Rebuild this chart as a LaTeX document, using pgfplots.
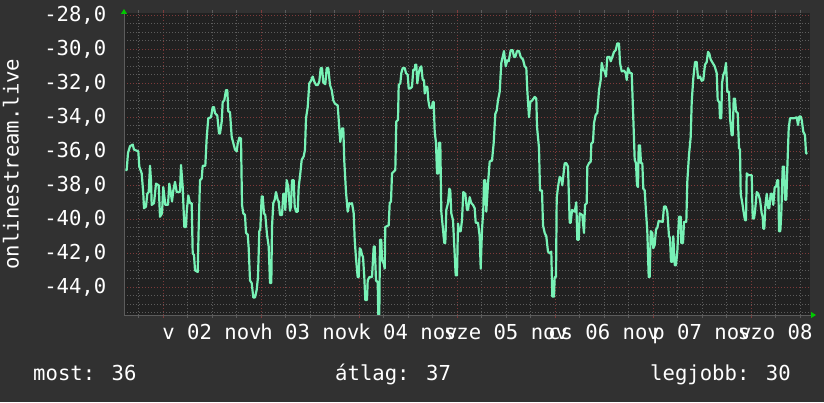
\documentclass[border=0pt]{standalone}
\usepackage{pgfplots}
\pgfplotsset{compat=1.18}
\usepackage{fontspec}
\setmainfont{DejaVu Sans Mono}
\usetikzlibrary{arrows.meta}
\definecolor{bgc}{RGB}{49,49,49}
\definecolor{canvasc}{RGB}{33,33,33}
\definecolor{gridg}{RGB}{92,92,92}
\definecolor{gridr}{RGB}{125,58,58}
\definecolor{linec}{RGB}{120,242,182}
\definecolor{arrowg}{RGB}{0,200,0}
\newcommand\rf{\fontsize{20.6pt}{24pt}\selectfont}
\begin{document}
\begin{tikzpicture}[x=1pt,y=1pt]
\fill[bgc] (0,0) rectangle (824,402);
\begin{axis}[
  at={(124pt,87pt)}, anchor=south west,
  scale only axis, width=685.5pt, height=301.7pt,
  xmin=124, xmax=809.5, ymin=-45.63, ymax=-27.88,
  axis background/.style={fill=canvasc},
  axis line style={draw=none},
  xtick={163,261,359,457,555,653,751},
  minor xtick={138.5,187.5,212,236.5,285.5,310,334.5,383.5,408,432.5,481.5,506,530.5,579.5,604,628.5,677.5,702,726.5,775.5,800},
  xticklabels={},
  extra x ticks={212,310,408,506,604,702,800},
  extra x tick labels={v 02 nov,h 03 nov,k 04 nov,sze 05 nov,cs 06 nov,p 07 nov,szo 08 nov},
  extra x tick style={grid=none, major tick length=0pt},
  ytick={-44,-42,-40,-38,-36,-34,-32,-30,-28},
  minor ytick={-45.5,-45,-44.5,-43.5,-43,-42.5,-41.5,-41,-40.5,-39.5,-39,-38.5,-37.5,-37,-36.5,-35.5,-35,-34.5,-33.5,-33,-32.5,-31.5,-31,-30.5,-29.5,-29,-28.5},
  grid=both,
  major grid style={draw=gridr, dash pattern=on 1pt off 2pt, line width=0.8pt},
  minor grid style={draw=gridg, dash pattern=on 1pt off 2pt, line width=0.8pt},
  tick align=outside,
  major tick length=3pt, minor tick length=3pt,
  major x tick style={draw=gridr, line width=0.8pt},
  minor x tick style={draw=gridg, line width=0.8pt},
  y tick style={draw=none},
  /pgf/number format/assume math mode=true,
  /pgf/number format/.cd, fixed, fixed zerofill, precision=1, use comma,
  /pgfplots/.cd,
  tick label style={font=\rf, text=white},
  yticklabel style={anchor=east, inner sep=0pt, xshift=-14.5pt},
  xticklabel style={anchor=base, inner sep=0pt, yshift=-24.5pt},
  clip=true,
]
\addplot[linec, line width=2.2pt, line join=round] coordinates {
(125.3,-37.1) (126.7,-37.1) (128,-36.1) (130,-35.7) (132.7,-35.6) (134,-35.9) (138.3,-36.0) (139.3,-36.9) (141.7,-37.3) (143.3,-38.5) (144,-39.35) (146,-39.25) (147.3,-38.5) (148.7,-38.4) (150,-36.85) (151,-37.7) (151.7,-39.15) (154,-39.05) (156,-37.9) (158.7,-38.0) (160,-39.85) (162,-39.65) (163.3,-38.1) (165.3,-39.15) (168,-39.15) (169.3,-37.9) (170.7,-38.4) (172,-38.95) (173.3,-38.3) (175,-37.8) (176.7,-38.4) (180,-38.4) (181,-36.8) (182.7,-38.1) (184.3,-40.45) (186,-40.45) (186.7,-39.55) (188.3,-38.6) (190,-39.05) (191.7,-39.05) (192.7,-42.0) (194,-42.1) (195,-43.0) (197.7,-43.1) (198.7,-40.45) (200,-37.7) (201.7,-37.6) (202.7,-36.85) (205.3,-36.85) (206.7,-35.2) (208.3,-34.05) (211,-34.0) (212.7,-33.4) (214,-33.4) (215,-33.75) (217.3,-33.9) (219,-34.95) (220,-34.95) (221.7,-34.25) (222.7,-33.1) (224.3,-33.0) (226,-32.4) (227.3,-32.4) (228.3,-33.65) (230,-33.7) (231.7,-35.15) (235,-35.9) (236.7,-36.0)
(237.7,-35.55) (239.3,-35.2) (241,-35.25) (242,-39.15) (243.3,-39.65) (245,-39.75) (246,-40.8) (247.7,-40.9) (248.7,-41.7) (250,-43.6) (251.7,-43.75) (253.3,-44.6) (255,-44.6) (256.7,-44.15) (258,-43.4) (259.3,-40.7) (260.3,-40.6) (261.7,-38.65) (262.7,-38.65) (264,-39.65) (265.3,-39.75) (267,-40.9) (268.7,-41.6) (270,-43.75) (271.3,-43.75) (272,-40.45) (273.3,-39.05) (274.7,-38.85) (276,-38.4) (277.7,-38.85) (278.7,-38.95) (280,-39.75) (282,-39.75) (283.3,-38.5) (284.7,-38.5) (285.3,-39.45) (286.7,-37.7) (288.3,-38.1) (290,-39.5) (291,-39.25) (292,-37.7) (293.7,-37.7) (294.7,-39.25) (296,-39.55) (297.7,-39.55) (298.7,-38.1) (300.3,-37.3) (301.7,-36.5) (303.7,-36.3) (305,-35.9) (306,-34.05) (307.7,-33.4) (309.3,-32.0) (311,-31.85) (312.7,-31.6) (314.3,-31.9) (316,-32.1) (317.7,-32.1) (319.3,-31.9) (320.7,-31.1) (322,-31.1) (323.3,-31.95) (325.3,-32.05) (326.7,-31.1) (328.3,-31.1) (330,-32.1) (331.7,-32.4) (333.3,-33.0) (335,-33.2) (337.7,-33.3) (339.3,-34.65) (340.3,-35.45) (342,-34.65) (343.3,-34.65) (344.3,-36.6) (346,-38.4) (347.7,-39.55) (349.3,-39.05) (351,-39.1)
(352,-39.05) (353.7,-39.65) (354.7,-41.2) (356,-42.3) (357.7,-43.4) (358.7,-43.4) (359.7,-41.7) (361,-41.8) (362,-42.1) (363,-42.2) (364.3,-43.4) (365.3,-44.75) (367,-44.75) (367.7,-43.6) (369.3,-43.4) (372,-43.4) (373.7,-41.6) (374.7,-41.6) (376,-43.6) (377.7,-43.7) (378.3,-45.6) (379.3,-45.6) (380,-41.2) (381.3,-41.2) (382,-42.4) (383.7,-42.6) (384.7,-42.9) (385.3,-40.45) (388.7,-40.35) (389.7,-39.05) (391,-38.95) (392,-37.3) (393.7,-37.2) (395.3,-37.1) (396.3,-34.25) (398,-34.15) (398.7,-32.1) (400.3,-32.0) (401.3,-31.4) (402.7,-31.1) (404.7,-31.1) (406,-31.4) (407.7,-31.5) (408.7,-32.3) (410.3,-32.3) (412,-32.2) (413.3,-31.2) (414.7,-31.2) (415.3,-30.9) (416.3,-30.9) (417.3,-32.0) (418.7,-31.4) (420,-31.1) (421.3,-31.0) (422.7,-31.8) (424,-31.8) (424.7,-32.6) (426,-32.2) (427.3,-32.2) (428.3,-33.0) (429.7,-33.45) (432,-33.45) (432.7,-33.1) (433.7,-33.1) (434.7,-34.85) (436,-35.5) (437,-37.3) (438.3,-37.3) (439,-35.5) (440.3,-35.5) (441.3,-39.55) (443,-40.6) (444.3,-41.4) (445.3,-41.4) (446.3,-39.45) (448,-39.05) (449.3,-38.2) (450.3,-38.3) (451.3,-39.65) (453,-40.05) (454.3,-41.6) (455.7,-43.3) (457,-43.3) (458,-40.25) (459.3,-40.7) (460.7,-40.7) (462,-40.05) (463.3,-38.4) (465.3,-38.5) (467,-39.45)
(468,-39.45) (469.7,-38.7) (471.3,-39.05) (473,-39.15) (474.7,-39.35) (475.7,-40.2) (478,-40.2) (479.7,-41.0) (480.7,-42.9) (482,-40.6) (483.3,-39.45) (484,-37.7) (485.3,-37.7) (486.3,-39.55) (488,-37.9) (489.7,-36.6) (492,-36.55) (493.7,-35.5) (495.3,-33.8) (496.7,-33.6) (498,-33.0) (499.7,-32.5) (501.3,-30.8) (504,-30.1) (505.7,-31.0) (507.3,-30.65) (508.7,-30.7) (510.7,-30.05) (512.7,-30.05) (514,-30.45) (515.3,-30.45) (517,-30.1) (519,-30.1) (520.7,-30.45) (523,-30.6) (524.7,-31.0) (526.3,-31.1) (527.3,-32.4) (529,-34.0) (530.3,-33.1) (532.3,-33.0) (534.7,-32.8) (536.3,-32.9) (537,-34.55) (539,-35.8) (540,-38.3) (542,-38.3) (543,-40.35) (544.7,-40.8) (546.3,-41.0) (548,-41.9) (549.7,-42.0) (551.3,-41.9) (552.3,-44.55) (554,-44.55) (554.7,-43.4) (556,-43.4) (556.7,-38.75) (558,-38.1) (559.7,-37.5) (561.3,-37.6) (562.3,-38.0) (563,-37.6) (564.7,-36.7) (566.3,-36.7) (568,-36.9) (569.7,-40.2) (570.7,-40.2) (572,-39.45) (574.7,-39.55) (576.3,-39.0) (577.3,-41.2) (578.7,-41.2) (579.7,-39.65) (582.3,-39.75)
(584,-40.8) (585,-39.15) (586.7,-39.05) (587.3,-36.9) (589,-36.7) (590.7,-36.6) (591.3,-35.55) (593,-35.45) (594,-34.35) (595.7,-33.85) (597.3,-33.75) (599,-32.4) (600.7,-31.8) (601.7,-30.8) (603.3,-31.2) (604.7,-31.3) (606,-31.6) (607.3,-30.45) (609.7,-30.45) (610.7,-30.7) (612.3,-30.45) (614,-30.15) (615.7,-30.05) (617.3,-29.65) (619,-29.65) (620,-30.8) (621.7,-31.3) (624,-31.25) (625.7,-31.4) (626.7,-31.8) (628,-31.1) (630,-31.4) (631.7,-31.4) (633,-33.55) (634.7,-36.5) (636,-36.7) (637,-38.0) (638,-38.1) (638.7,-35.65) (640,-35.65) (641,-36.7) (642.3,-36.7) (643.3,-38.2) (644.7,-38.3) (646,-39.55) (647.3,-40.7) (648.7,-43.4) (649.7,-43.4) (650.7,-40.7) (652.3,-40.8) (653.3,-41.7) (654.7,-41.5) (656,-40.6) (657.3,-40.5) (658.7,-40.1) (662.7,-40.15) (664,-39.25) (665.7,-39.25) (667.3,-39.55) (669,-41.0) (670,-41.1) (671,-42.5) (672.3,-42.5) (673.3,-41.0) (674.7,-42.7) (676,-42.7) (677.3,-41.9) (679,-39.85) (680.7,-39.85) (681.3,-41.4) (683,-41.4) (684,-40.15) (686.3,-40.15) (687.3,-37.8) (689,-36.2) (690.7,-35.15) (691.7,-33.1) (693.3,-31.7) (695,-30.75) (696.7,-30.75) (698,-31.7)
(700,-31.6) (701.7,-31.85) (703.3,-31.8) (705,-30.9) (706.7,-30.75) (708,-30.15) (709.3,-30.25) (710.7,-30.6) (712.7,-30.8) (714.7,-31.0) (716.7,-31.4) (717.7,-33.0) (719.3,-33.1) (720,-34.05) (721.3,-34.05) (722,-32.0) (723.3,-31.5) (724.7,-31.3) (726,-30.8) (727.3,-32.5) (729,-32.5) (730,-34.05) (731.7,-35.05) (732.7,-35.05) (733.7,-32.9) (735,-32.9) (736,-33.65) (737.7,-33.75) (739,-35.8) (740,-35.9) (740.7,-38.5) (742.3,-39.05) (743.3,-39.45) (745,-40.05) (746,-40.05) (746.7,-37.3) (748.3,-37.4) (751.7,-37.4) (752.7,-39.95) (754,-39.95) (755,-39.55) (756.7,-38.4) (758.3,-38.5) (760,-38.85) (761.7,-39.65) (762.7,-39.85) (763.3,-40.55) (764.3,-40.55) (765.3,-39.25) (766.7,-38.5) (768.3,-39.35) (769.3,-39.35) (770.7,-38.5) (772,-38.5) (773.3,-39.15) (774.7,-38.1) (776,-38.1) (777.3,-37.7) (778.3,-37.7) (779,-40.7) (780.3,-40.7) (781.3,-39.65) (782.7,-36.9) (784,-36.9) (785,-38.85) (786.3,-38.85) (787.3,-37.0) (788.7,-34.65) (790,-34.05) (794.3,-34.05) (796.7,-34.0) (798,-34.45) (799.3,-33.95) (800.7,-33.95) (801.7,-34.15) (803.3,-34.85) (805,-35.05) (806,-36.1) (807.3,-36.15)
};
\end{axis}
\draw[gridg, line width=0.8pt, -{Triangle[length=5pt,width=6pt,color=arrowg,fill=arrowg]}] (124,87) -- (124,393);
\draw[gridg, line width=0.8pt, -{Triangle[length=5pt,width=6pt,color=arrowg,fill=arrowg]}] (124,87) -- (816,87);
\node[rotate=90, anchor=base, inner sep=0pt, font=\rf, text=white] at (18.5,238) {onlinestream.live};
\node[anchor=base west, inner sep=0pt, font=\rf, text=white] at (33,22) {most: 36};
\node[anchor=base west, inner sep=0pt, font=\rf, text=white] at (335,22) {átlag: 37};
\node[anchor=base west, inner sep=0pt, font=\rf, text=white] at (650,22) {legjobb: 30};
\pgfresetboundingbox
\useasboundingbox (0,0) rectangle (824,402);
\end{tikzpicture}
\end{document}
